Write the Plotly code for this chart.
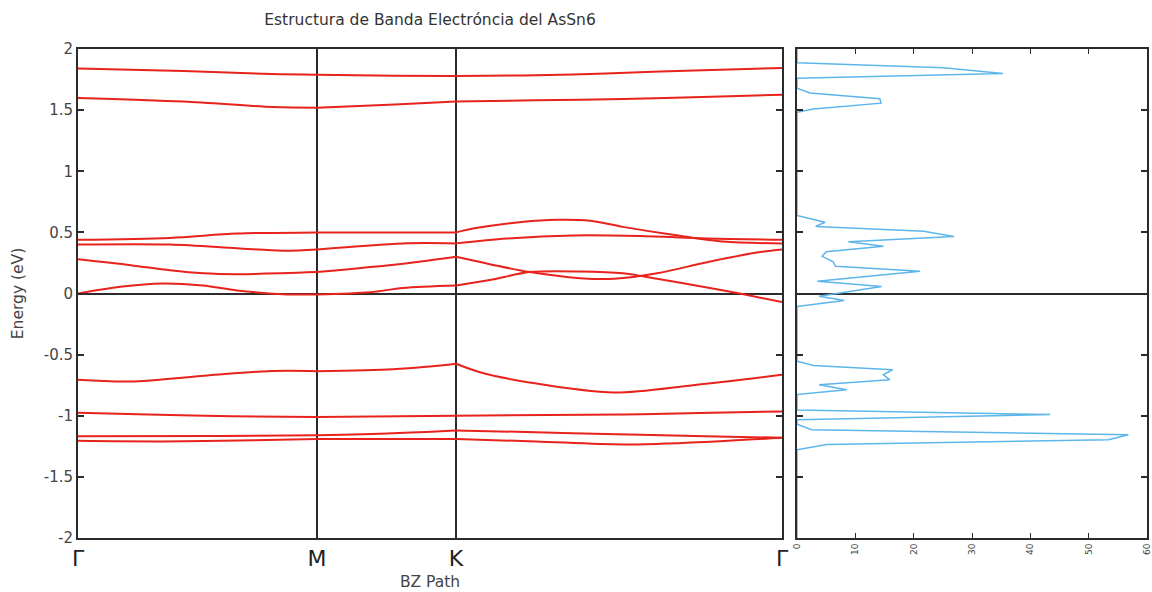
import plotly.graph_objects as go

# High-symmetry points along the Brillouin-zone path
kpoint_labels = ["Γ", "M", "K", "Γ"]
kpoint_pos = [0.0, 0.679, 1.074, 2.0]

# Band energies (eV) sampled along the path: (k, E) lists per band
band_k = [
    [0, 0.3, 0.55, 0.679, 0.9, 1.074, 1.3, 1.5, 1.75, 2.0],
    [0, 0.3, 0.554, 0.679, 0.9, 1.074, 1.3, 1.55, 1.8, 2.0],
    [0, 0.261, 0.452, 0.679, 0.923, 1.074, 1.13, 1.26, 1.361, 1.455, 1.548, 1.69, 1.832, 2.0],
    [0, 0.261, 0.452, 0.582, 0.679, 0.923, 1.074, 1.219, 1.406, 1.597, 1.787, 2.0],
    [0, 0.15, 0.261, 0.355, 0.452, 0.679, 0.923, 1.074, 1.17, 1.284, 1.426, 1.523, 1.645, 1.787, 1.929, 2.0],
    [0, 0.12, 0.241, 0.355, 0.452, 0.582, 0.679, 0.83, 0.923, 1.074, 1.17, 1.284, 1.426, 1.548, 1.645, 1.787, 1.88, 2.0],
    [0, 0.148, 0.369, 0.54, 0.679, 0.895, 1.0, 1.074, 1.142, 1.287, 1.523, 1.747, 2.0],
    [0, 0.2, 0.436, 0.679, 1.074, 1.55, 1.8, 2.0],
    [0, 0.4, 0.679, 0.895, 1.074, 1.3, 1.497, 1.75, 2.0],
    [0, 0.24, 0.5, 0.679, 1.074, 1.3, 1.55, 1.81, 2.0],
]
band_e = [
    [1.84, 1.82, 1.795, 1.79, 1.782, 1.78, 1.785, 1.80, 1.825, 1.845],
    [1.60, 1.57, 1.525, 1.52, 1.545, 1.57, 1.58, 1.59, 1.61, 1.625],
    [0.44, 0.455, 0.49, 0.50, 0.50, 0.50, 0.535, 0.585, 0.603, 0.595, 0.545, 0.48, 0.425, 0.41],
    [0.40, 0.40, 0.37, 0.35, 0.36, 0.41, 0.41, 0.45, 0.475, 0.47, 0.45, 0.44],
    [0.28, 0.232, 0.19, 0.165, 0.158, 0.175, 0.243, 0.30, 0.24, 0.175, 0.125, 0.12, 0.165, 0.256, 0.335, 0.36],
    [0.0, 0.055, 0.082, 0.065, 0.025, -0.006, -0.008, 0.01, 0.045, 0.065, 0.11, 0.175, 0.18, 0.165, 0.12, 0.05, 0.0, -0.07],
    [-0.706, -0.72, -0.67, -0.635, -0.635, -0.62, -0.597, -0.575, -0.644, -0.73, -0.81, -0.75, -0.665],
    [-0.975, -0.99, -1.005, -1.01, -1.0, -0.99, -0.975, -0.965],
    [-1.167, -1.165, -1.16, -1.143, -1.12, -1.135, -1.15, -1.165, -1.18],
    [-1.205, -1.21, -1.2, -1.19, -1.19, -1.21, -1.235, -1.21, -1.18],
]

# Density of states
dos_energy = [2.0, 1.887, 1.846, 1.80, 1.76, 1.68, 1.64, 1.593, 1.557, 1.51, 1.483,
              0.638, 0.583, 0.548, 0.51, 0.466, 0.424, 0.386, 0.342, 0.304, 0.26, 0.222,
              0.183, 0.10, 0.058, -0.022, -0.057, -0.106,
              -0.554, -0.589, -0.624, -0.663, -0.706, -0.747, -0.788, -0.826,
              -0.952, -0.99, -1.033, -1.07, -1.115, -1.156, -1.197, -1.235, -1.279, -2.0]
dos_value = [0, 0, 25.1, 35.3, 0, 0, 2.2, 14.2, 14.4, 2.8, 0,
             0, 4.8, 3.2, 21.7, 26.9, 8.8, 14.8, 5.0, 4.3, 6.2, 6.6,
             21.1, 3.5, 14.5, 3.8, 8.1, 0,
             0, 2.8, 16.4, 14.8, 15.9, 3.8, 8.5, 0,
             0, 43.4, 0, 0, 2.5, 56.8, 53.4, 5.1, 0, 0]

energy_ticks = [-2, -1.5, -1, -0.5, 0, 0.5, 1, 1.5, 2]
energy_ticktext = ["-2", "-1.5", "-1", "-0.5", "0", "0.5", "1", "1.5", "2"]
dos_ticks = [0, 10, 20, 30, 40, 50, 60]

BAND_RED = "#e8221c"
DOS_BLUE = "#5db6ea"
FRAME = "#2b2b2b"
TICK_GRAY = "#444444"
FONT = "DejaVu Sans"


def path_segments(ks, es):
    """Split one band at the high-symmetry points so each leg is smoothed on its own."""
    for a, b in zip(kpoint_pos[:-1], kpoint_pos[1:]):
        seg = [(k, e) for k, e in zip(ks, es) if a - 1e-9 <= k <= b + 1e-9]
        yield [p[0] for p in seg], [p[1] for p in seg]


fig = go.Figure()

for ks, es in zip(band_k, band_e):
    for sk, se in path_segments(ks, es):
        fig.add_trace(go.Scatter(
            x=sk, y=se, mode="lines",
            line=dict(color=BAND_RED, width=2, shape="spline", smoothing=0.9),
            xaxis="x", yaxis="y", showlegend=False, hoverinfo="skip",
        ))

fig.add_trace(go.Scatter(
    x=dos_value, y=dos_energy, mode="lines",
    line=dict(color=DOS_BLUE, width=1.5),
    xaxis="x2", yaxis="y2", showlegend=False, hoverinfo="skip",
))

fig.update_layout(
    width=1152, height=592,
    margin=dict(l=78, r=5, t=49, b=54),
    paper_bgcolor="white", plot_bgcolor="white",
    font=dict(family=FONT, color=TICK_GRAY, size=15),
    title=dict(
        text="Estructura de Banda Electróncia del AsSn6",
        x=430 / 1152, xanchor="center", xref="container",
        y=1 - 20 / 592, yanchor="middle", yref="container",
        font=dict(family=FONT, size=15.5, color="#333333"),
    ),
    xaxis=dict(
        domain=[0, 704 / 1069], range=[0, 2.0], automargin=False,
        tickmode="array", tickvals=kpoint_pos, ticktext=kpoint_labels,
        tickfont=dict(size=22, color="#222222"),
        ticks="", showgrid=True, gridcolor=FRAME, gridwidth=1.5,
        showline=True, linecolor=FRAME, linewidth=2, mirror=True,
        zeroline=False,
        title=dict(text="BZ Path", font=dict(size=15.5, color=TICK_GRAY), standoff=6),
    ),
    yaxis=dict(
        range=[-2, 2], automargin=False,
        tickmode="array", tickvals=energy_ticks, ticktext=energy_ticktext,
        ticks="inside", ticklen=6, tickcolor=FRAME, tickwidth=1.5,
        showline=True, linecolor=FRAME, linewidth=2, mirror="ticks",
        showgrid=False, zeroline=True, zerolinecolor=FRAME, zerolinewidth=1.5,
        tickfont=dict(size=15, color=TICK_GRAY),
        title=dict(text="Energy (eV)", font=dict(size=15.5, color=TICK_GRAY), standoff=16),
    ),
    xaxis2=dict(
        domain=[719 / 1069, 1], range=[0, 60], anchor="y2", automargin=False,
        tickmode="array", tickvals=dos_ticks,
        ticks="inside", ticklen=5, tickcolor=FRAME, tickwidth=1.2,
        showline=True, linecolor=FRAME, linewidth=2, mirror="ticks",
        showgrid=False, zeroline=False,
        tickangle=-90, tickfont=dict(size=9, color=TICK_GRAY),
    ),
    yaxis2=dict(
        range=[-2, 2], anchor="x2", automargin=False,
        tickmode="array", tickvals=energy_ticks,
        showticklabels=False,
        ticks="inside", ticklen=6, tickcolor=FRAME, tickwidth=1.5,
        showline=True, linecolor=FRAME, linewidth=2, mirror="ticks",
        showgrid=False, zeroline=True, zerolinecolor=FRAME, zerolinewidth=1.5,
    ),
)

fig.write_html("out.html")
